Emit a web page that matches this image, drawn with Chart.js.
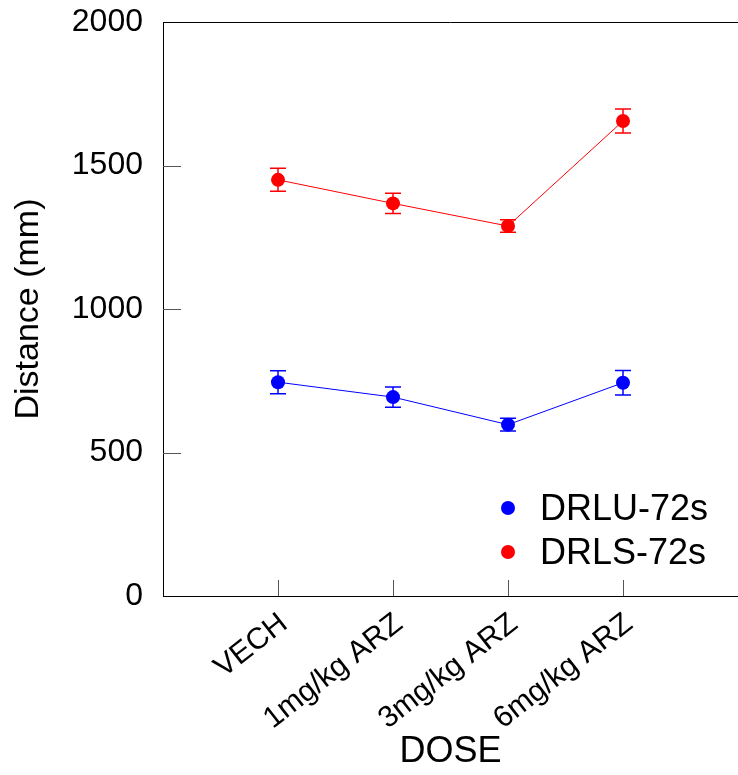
<!DOCTYPE html>
<html>
<head>
<meta charset="utf-8">
<script src="https://cdn.jsdelivr.net/npm/chart.js@4.4.1/dist/chart.umd.min.js"></script>
<style>
  html, body { margin: 0; padding: 0; background: #fff; overflow: hidden; }
  #wrap { width: 738px; height: 775px; position: relative; }
</style>
</head>
<body>
<div id="wrap"><canvas id="c" width="738" height="775"></canvas></div>
<script>
const categories = ['VECH', '1mg/kg ARZ', '3mg/kg ARZ', '6mg/kg ARZ'];
const drluMean = [745, 693, 597, 743];
const drluErr  = [40, 35, 22, 43];
const drlsMean = [1450, 1368, 1289, 1655];
const drlsErr  = [40, 35, 22, 42];
const yTicks = [0, 500, 1000, 1500, 2000];
const seriesNames = ['DRLU-72s', 'DRLS-72s'];
const seriesColors = ['#0000ff', '#ff0000'];

const FONT = "'Liberation Sans', Arial, Helvetica, sans-serif";

function pts(means) { return means.map((v, i) => ({ x: i + 1, y: v })); }

const errorBars = {
  id: 'errorBars',
  beforeDatasetsDraw(chart) {
    const ctx = chart.ctx;
    const xs = chart.scales.x, ys = chart.scales.y;
    const errs = [drluErr, drlsErr];
    chart.data.datasets.forEach((ds, di) => {
      ctx.save();
      ctx.strokeStyle = ds.borderColor;
      ctx.lineWidth = 1.5;
      ds.data.forEach((p, i) => {
        const x = xs.getPixelForValue(p.x);
        const yt = ys.getPixelForValue(p.y + errs[di][i]);
        const yb = ys.getPixelForValue(p.y - errs[di][i]);
        ctx.beginPath();
        ctx.moveTo(x, yt); ctx.lineTo(x, yb);
        ctx.moveTo(x - 8, yt); ctx.lineTo(x + 8, yt);
        ctx.moveTo(x - 8, yb); ctx.lineTo(x + 8, yb);
        ctx.stroke();
      });
      ctx.restore();
    });
  }
};

const frame = {
  id: 'frame',
  afterDraw(chart) {
    const ctx = chart.ctx;
    const a = chart.chartArea;
    const xs = chart.scales.x, ys = chart.scales.y;
    ctx.save();
    ctx.strokeStyle = '#000';
    ctx.lineWidth = 1;
    ctx.beginPath();
    ctx.moveTo(a.left, a.top + 0.5); ctx.lineTo(a.right, a.top + 0.5);
    ctx.stroke();
    ctx.strokeStyle = '#555';
    ctx.beginPath();
    yTicks.slice(1, -1).forEach(v => {
      const y = Math.round(ys.getPixelForValue(v)) + 0.5;
      ctx.moveTo(a.left, y); ctx.lineTo(a.left + 18, y);
    });
    categories.forEach((c, i) => {
      const x = Math.round(xs.getPixelForValue(i + 1)) + 0.5;
      ctx.moveTo(x, a.bottom); ctx.lineTo(x, a.bottom - 16);
    });
    ctx.stroke();
    ctx.font = '36px ' + FONT;
    ctx.textBaseline = 'middle';
    ctx.textAlign = 'left';
    seriesNames.forEach((n, i) => {
      const y = 508 + i * 44;
      ctx.fillStyle = seriesColors[i];
      ctx.beginPath();
      ctx.arc(508, y, 7, 0, Math.PI * 2);
      ctx.fill();
      ctx.fillStyle = '#000';
      ctx.fillText(n, 540, y + 2);
    });
    ctx.restore();
  }
};

new Chart(document.getElementById('c'), {
  type: 'line',
  data: {
    datasets: [
      { label: seriesNames[0], data: pts(drluMean), borderColor: seriesColors[0], backgroundColor: seriesColors[0],
        borderWidth: 1, pointRadius: 7, pointHoverRadius: 7, pointBorderWidth: 0 },
      { label: seriesNames[1], data: pts(drlsMean), borderColor: seriesColors[1], backgroundColor: seriesColors[1],
        borderWidth: 1, pointRadius: 7, pointHoverRadius: 7, pointBorderWidth: 0 }
    ]
  },
  options: {
    responsive: false,
    animation: false,
    devicePixelRatio: 1,
    layout: { autoPadding: false, padding: { top: 22, right: 0, left: 0, bottom: 0 } },
    plugins: { legend: { display: false }, tooltip: { enabled: false } },
    scales: {
      x: {
        type: 'linear', min: 0, max: 5,
        afterBuildTicks(s) { s.ticks = categories.map((c, i) => ({ value: i + 1 })); },
        afterFit(s) { s.height = 179; s.paddingLeft = 0; s.paddingRight = 0; },
        grid: { display: false },
        border: { display: true, color: '#000', width: 1 },
        ticks: {
          autoSkip: false, minRotation: 38, maxRotation: 38, padding: 2, labelOffset: 6,
          color: '#000', font: { family: FONT, size: 30 },
          callback: v => categories[v - 1] || ''
        },
        title: { display: true, text: 'DOSE', color: '#000', font: { family: FONT, size: 36 }, padding: { top: 0, bottom: 1 } }
      },
      y: {
        min: 0, max: 2000,
        afterBuildTicks(s) { s.ticks = yTicks.map(v => ({ value: v })); },
        afterFit(s) { s.width = 163; s.paddingTop = 0; s.paddingBottom = 0; },
        grid: { display: false },
        border: { display: true, color: '#000', width: 1 },
        ticks: { padding: 12, color: '#000', font: { family: FONT, size: 32 }, callback: v => String(v) },
        title: { display: true, text: 'Distance (mm)', color: '#000', font: { family: FONT, size: 34 }, padding: { top: 8, bottom: 0 } }
      }
    }
  },
  plugins: [errorBars, frame]
});
</script>
</body>
</html>
